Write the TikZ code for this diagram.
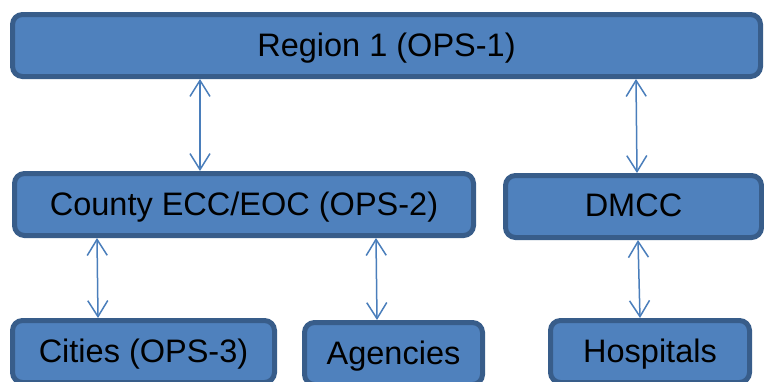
\documentclass[tikz,border=0pt]{standalone}
\usepackage{fontspec}
\setmainfont{Liberation Sans}
\usetikzlibrary{arrows.meta,positioning}
\definecolor{boxfill}{HTML}{4F81BD}
\definecolor{boxline}{HTML}{385D8A}
\definecolor{linkcol}{HTML}{4A7EBB}
\begin{document}
\begin{tikzpicture}[x=1pt,y=-1pt,
    every node/.style={draw=boxline,fill=boxfill,line width=5pt,rounded corners=10pt,
        minimum height=62pt,inner sep=0pt,text depth=2pt,font=\fontsize{32.5}{38}\selectfont},
    link/.style={draw=linkcol,line width=1.5pt,{Straight Barb[length=16pt,width=20pt]}-{Straight Barb[length=16pt,width=20pt]}}]
                \useasboundingbox (0,0) rectangle (764,381);

                \node[minimum width=748pt] (region) at (386.5,45.5) {Region 1 (OPS-1)};
                \node[minimum width=459pt] (county) at (244,204.5) {County ECC/EOC (OPS-2)};
                \node[minimum width=256pt] (dmcc) at (633.5,206.5) {DMCC};
                \node[minimum width=262pt] (cities) at (143.5,351.5) {Cities (OPS-3)};
                \node[minimum width=178pt] (agencies) at (393.5,353.5) {Agencies};
                \node[minimum width=199pt] (hosp) at (650,351.5) {Hospitals};

                \draw[link] (region.south -| 200,0) -- (county.north -| 200,0);
                \draw[link] (region.south -| 636,0) -- (dmcc.north -| 637,0);
                \draw[link] (county.south -| 97,0) -- (cities.north -| 98,0);
                \draw[link] (county.south -| 376,0) -- (agencies.north -| 377,0);
                \draw[link] (dmcc.south -| 638,0) -- (hosp.north -| 640,0);

            \end{tikzpicture}
\end{document}
